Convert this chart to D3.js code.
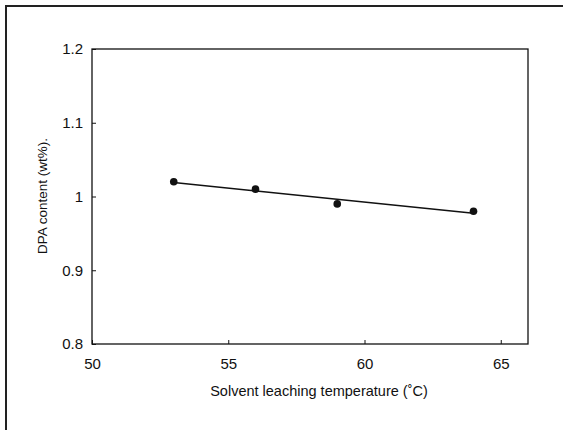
<!DOCTYPE html>
<html><head><meta charset="utf-8">
<script src="https://cdn.jsdelivr.net/npm/d3@7"></script>
<style>body{margin:0;background:#fff}svg{display:block}</style>
</head><body>
<svg id="c" width="563" height="430"></svg>
<script>
const temperatures = [53, 56, 59, 64];
const dpaContent = [1.02, 1.01, 0.99, 0.98];
const xTicks = [50, 55, 60, 65];
const yTicks = [0.8, 0.9, 1.0, 1.1, 1.2];
const xTitle = "Solvent leaching temperature (\u02DAC)";
const yTitle = "DPA content (wt%).";

const svg = d3.select("#c");
const font = "'Liberation Sans', Arial, sans-serif";
const m = {l: 92, r: 528, t: 49, b: 344};
const x = d3.scaleLinear().domain([50, 66]).range([m.l, m.r]);
const y = d3.scaleLinear().domain([0.8, 1.2]).range([m.b, m.t]);

// outer frame (left and top)
svg.append("path").attr("d", `M6,430 V6 H563`).attr("fill","none").attr("stroke","#222").attr("stroke-width",2);

// plot box
svg.append("rect").attr("x", m.l).attr("y", m.t).attr("width", m.r-m.l).attr("height", m.b-m.t)
  .attr("fill","none").attr("stroke","#111").attr("stroke-width",1.3);

const xAxis = svg.append("g").attr("transform",`translate(0,${m.b})`)
  .call(d3.axisBottom(x).tickValues(xTicks).tickSize(-4).tickPadding(14).tickFormat(d3.format("d")));
const yAxis = svg.append("g").attr("transform",`translate(${m.l},0)`)
  .call(d3.axisLeft(y).tickValues(yTicks).tickSize(-4).tickPadding(9).tickFormat(d => d === 1 ? "1" : d3.format(".1f")(d)));
[xAxis, yAxis].forEach(a => {
  a.select(".domain").remove();
  a.selectAll("line").attr("stroke","#111");
  a.selectAll("text").attr("font-family", font).attr("font-size", 15).attr("fill","#111");
});

// regression trendline
const mx = d3.mean(temperatures), my = d3.mean(dpaContent);
const slope = d3.sum(temperatures, (t,i) => (t-mx)*(dpaContent[i]-my)) / d3.sum(temperatures, t => (t-mx)**2);
const icpt = my - slope*mx;
const x0 = d3.min(temperatures), x1 = d3.max(temperatures);
svg.append("line").attr("x1", x(x0)).attr("y1", y(icpt+slope*x0))
  .attr("x2", x(x1)).attr("y2", y(icpt+slope*x1)).attr("stroke","#111").attr("stroke-width",1.5);

svg.selectAll("circle.pt").data(temperatures).join("circle")
  .attr("cx", d => x(d)).attr("cy", (d,i) => y(dpaContent[i])).attr("r", 3.8).attr("fill","#111");

svg.append("text").attr("x", 319).attr("y", 396).attr("text-anchor","middle")
  .attr("font-family", font).attr("font-size", 14.5).attr("fill","#111").text(xTitle);
svg.append("text").attr("transform", "translate(47,196) rotate(-90)").attr("text-anchor","middle")
  .attr("font-family", font).attr("font-size", 13.5).attr("fill","#111").text(yTitle);
</script>
</body></html>
